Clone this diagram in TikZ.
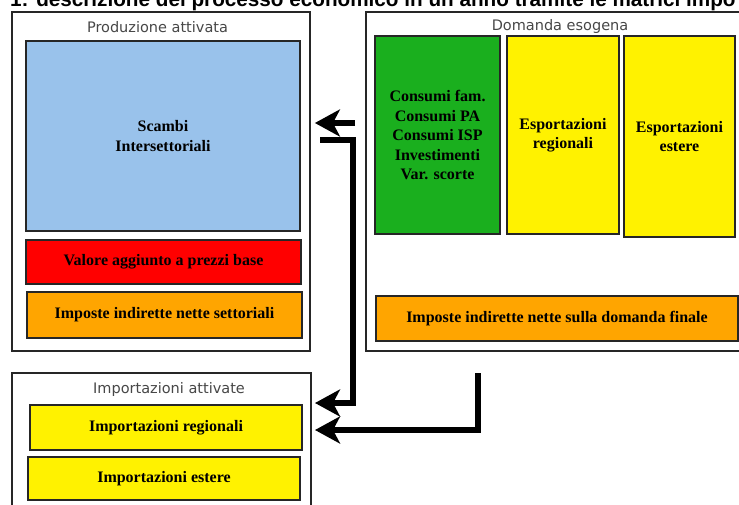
\documentclass[tikz,border=0pt]{standalone}
\usepackage{fontspec}
\setmainfont{Liberation Serif}
\newfontfamily\titolofont{DejaVu Sans}
\newfontfamily\didafont{Liberation Sans}
\usetikzlibrary{arrows.meta}
\definecolor{azzurro}{RGB}{153,194,235}
\definecolor{verde}{RGB}{26,175,30}
\definecolor{arancio}{RGB}{255,165,0}
\tikzset{
  cornice/.style={draw=black!85, line width=1.8pt},
  blocco/.style={draw=black!85, line width=1.6pt, align=center, inner sep=0pt,
    font=\fontsize{16}{19.5}\selectfont\bfseries},
  titolo/.style={text=black!72, font=\titolofont\fontsize{14.5}{17}\selectfont},
  freccia/.style={line width=6.5pt, line join=miter,
    -{Stealth[length=25pt, width=27pt, inset=7pt]}}
}
\begin{document}
\begin{tikzpicture}[x=1pt, y=-1pt]
		%%%%% cornice e didascalia %%%%%
		\useasboundingbox (0,0) rectangle (739,504);
		\clip (0,0) rectangle (739,504);
		\fill[white] (0,0) rectangle (739,504);
		\node[anchor=base west, inner sep=0pt, font=\didafont\bfseries\fontsize{20.7}{25}\selectfont]
			(dida) at (10,6) {1: descrizione del processo economico in un anno tramite le matrici impo};
		
		%%%%% produzione attivata %%%%%
		\node[cornice, minimum width=298pt, minimum height=339pt] (prod) at (161,181.5) {};
		\node[titolo] (tprod) at (157.5,27) {Produzione attivata};
		\node[blocco, fill=azzurro, minimum width=274pt, minimum height=190pt] (scambi) at (163,136) {Scambi\\Intersettoriali};
		\node[blocco, fill=red, minimum width=275pt, minimum height=44pt] (valore) at (163.5,262) {Valore aggiunto a prezzi base};
		\node[blocco, fill=arancio, minimum width=275pt, minimum height=46pt] (impsett) at (164.5,315) {Imposte indirette nette settoriali};
		
		%%%%% domanda esogena %%%%%
		\node[cornice, minimum width=394pt, minimum height=339pt] (dom) at (563,181.5) {};
		\node[titolo] (tdom) at (560,26) {Domanda esogena};
		\node[blocco, fill=verde, minimum width=125pt, minimum height=198pt] (consumi) at (437.5,135)
			{Consumi fam.\\Consumi PA\\Consumi ISP\\Investimenti\\Var. scorte};
		\node[blocco, fill=yellow, minimum width=112pt, minimum height=198pt] (espreg) at (563,135) {Esportazioni\\regionali};
		\node[blocco, fill=yellow, minimum width=111pt, minimum height=201pt] (espest) at (679.5,136.5) {Esportazioni\\estere};
		\node[blocco, fill=arancio, minimum width=362pt, minimum height=45pt] (impdom) at (557,318.5) {Imposte indirette nette sulla domanda finale};
		
		%%%%% importazioni attivate %%%%%
		\node[cornice, minimum width=299pt, minimum height=157pt] (imp) at (161.5,451.5) {};
		\node[titolo] (timp) at (169,389) {Importazioni attivate};
		\node[blocco, fill=yellow, minimum width=272pt, minimum height=45pt] (impreg) at (166,427.5) {Importazioni regionali};
		\node[blocco, fill=yellow, minimum width=272pt, minimum height=43pt] (impest) at (164,478.5) {Importazioni estere};
		
		%%%%% frecce %%%%%
		\coordinate (p1) at (355,123);
		\coordinate (p2) at (320,140);
		\coordinate (q2) at (353,140);
		\coordinate (p3) at (478,373);
		\coordinate (t2) at (315,403);
		\coordinate (t3) at (315,430);
		\draw[freccia, shorten >=4pt] (p1) -- (p1 -| prod.east);
		\draw[freccia] (p2) -- (q2) |- (t2);
		\draw[freccia] (p3) |- (t3);
		
\end{tikzpicture}
\end{document}
